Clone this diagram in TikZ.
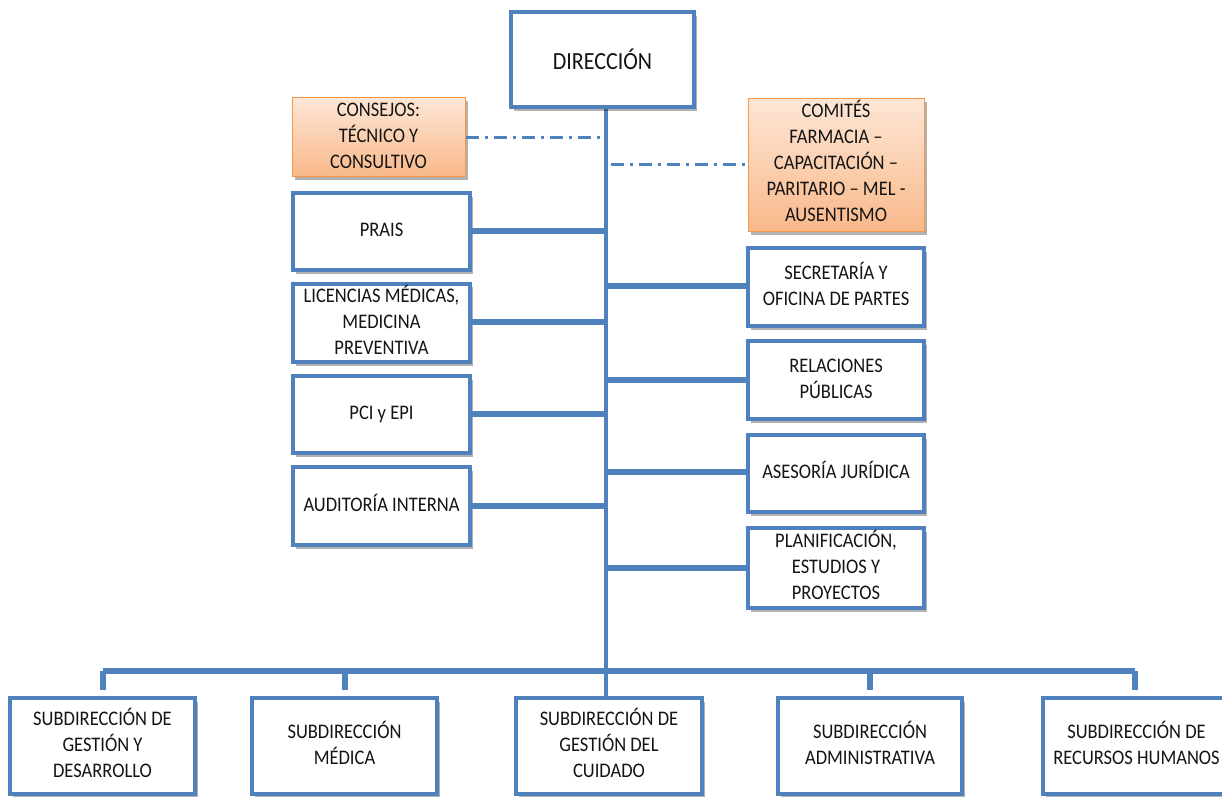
\documentclass[tikz,border=0pt]{standalone}
\usepackage{fontspec}
\setmainfont{Carlito}
\usetikzlibrary{shadows}
\definecolor{boxblue}{HTML}{4F81BD}
\definecolor{orgtop}{HTML}{FDE6D6}
\definecolor{orgbot}{HTML}{F9B98A}
\definecolor{orgline}{HTML}{F79646}
\definecolor{txt}{HTML}{141414}
\newcommand{\tx}[1]{\scalebox{1}[1.12]{\begin{tabular}{@{}c@{}}#1\end{tabular}}}
\tikzset{
  unit/.style={draw=boxblue, line width=4pt, fill=white, inner sep=0pt,
    text=txt, font=\fontsize{18.5}{23.3}\selectfont,
    drop shadow={shadow xshift=2.5pt, shadow yshift=-3.5pt, fill=black, opacity=0.3}},
  council/.style={draw=orgline, line width=1pt, top color=orgtop, bottom color=orgbot,
    inner sep=0pt, text=txt, font=\fontsize{18.5}{23.3}\selectfont,
    drop shadow={shadow xshift=2.5pt, shadow yshift=-3.5pt, fill=black, opacity=0.3}},
  link/.style={draw=boxblue, line width=5.5pt},
  trunk/.style={draw=boxblue, line width=4.5pt},
  advisory/.style={draw=boxblue, line width=3pt, dash pattern=on 13pt off 6pt on 3pt off 6pt}
}
\begin{document}
\begin{tikzpicture}[x=1pt,y=-1pt]
\useasboundingbox (0,0) rectangle (1222,796);
\clip (0,0) rectangle (1222,796);
\fill[white] (0,0) rectangle (1222,796);

% coordinates for the trunk and the bus
\coordinate (ttop) at (606,107);
\coordinate (busL) at (103,671);
\coordinate (busR) at (1135,671);
\coordinate (busB) at (345,671);
\coordinate (busD) at (870,671);
\coordinate (cj) at (603,137);
\coordinate (cm) at (611,164);
\coordinate (jp) at (606,231);
\coordinate (jl) at (606,322);
\coordinate (jc) at (606,414);
\coordinate (ja) at (606,506);
\coordinate (js) at (606,286);
\coordinate (jr) at (606,380);
\coordinate (jj) at (606,472);
\coordinate (jn) at (606,568);

% bottom boxes
\node[unit, minimum width=185, minimum height=96] (b1) at (102.5,746) {\tx{SUBDIRECCIÓN DE\\GESTIÓN Y\\DESARROLLO}};
\node[unit, minimum width=185, minimum height=96] (b2) at (344.5,746) {\tx{SUBDIRECCIÓN\\MÉDICA}};
\node[unit, minimum width=186, minimum height=96] (b3) at (609,746) {\tx{SUBDIRECCIÓN DE\\GESTIÓN DEL\\CUIDADO}};
\node[unit, minimum width=184, minimum height=96] (b4) at (870,746) {\tx{SUBDIRECCIÓN\\ADMINISTRATIVA}};
\node[unit, minimum width=187, minimum height=96] (b5) at (1136.5,746) {\tx{SUBDIRECCIÓN DE\\RECURSOS HUMANOS}};

% connectors
\draw[trunk] (ttop) -- (ttop |- b3.north);
\draw[link] (busL) -- (busR);
\draw[link] (busL) -- ([yshift=6pt]busL |- b1.north);
\draw[link] (busB) -- ([yshift=6pt]busB |- b2.north);
\draw[link] (busD) -- ([yshift=6pt]busD |- b4.north);
\draw[link] (busR) -- ([yshift=6pt]busR |- b5.north);

% top
\node[unit, minimum width=183, minimum height=95] (dir) at (602.5,59.5) {\scalebox{1}[1.12]{\fontsize{22}{26}\selectfont DIRECCIÓN}};
\node[council, minimum width=173, minimum height=78] (cons) at (378.5,137) {\tx{CONSEJOS:\\TÉCNICO Y\\CONSULTIVO}};
\node[council, minimum width=176, minimum height=133] (com) at (836,164.5) {\tx{COMITÉS\\FARMACIA –\\CAPACITACIÓN –\\PARITARIO – MEL -\\AUSENTISMO}};
\draw[advisory] (cons.east |- cj) -- (cj);
\draw[advisory] (cm) -- (com.west |- cm);

% left column
\node[unit, minimum width=177, minimum height=77] (prais) at (381.5,231.5) {\tx{PRAIS}};
\node[unit, minimum width=177, minimum height=78] (lic) at (381.5,323) {\tx{LICENCIAS MÉDICAS,\\MEDICINA\\PREVENTIVA}};
\node[unit, minimum width=177, minimum height=77] (pci) at (381.5,414.5) {\tx{PCI y EPI}};
\node[unit, minimum width=177, minimum height=78] (aud) at (381.5,506) {\tx{AUDITORÍA INTERNA}};

% right column
\node[unit, minimum width=176, minimum height=78] (sec) at (836,287) {\tx{SECRETARÍA Y\\OFICINA DE PARTES}};
\node[unit, minimum width=176, minimum height=78] (rel) at (836,380) {\tx{RELACIONES\\PÚBLICAS}};
\node[unit, minimum width=176, minimum height=77] (ase) at (836,473.5) {\tx{ASESORÍA JURÍDICA}};
\node[unit, minimum width=176, minimum height=80] (pla) at (836,568) {\tx{PLANIFICACIÓN,\\ESTUDIOS Y\\PROYECTOS}};

\draw[link] (prais.east |- jp) -- (jp);
\draw[link] (lic.east |- jl) -- (jl);
\draw[link] (pci.east |- jc) -- (jc);
\draw[link] (aud.east |- ja) -- (ja);
\draw[link] (js) -- (sec.west |- js);
\draw[link] (jr) -- (rel.west |- jr);
\draw[link] (jj) -- (ase.west |- jj);
\draw[link] (jn) -- (pla.west |- jn);
\end{tikzpicture}
\end{document}
